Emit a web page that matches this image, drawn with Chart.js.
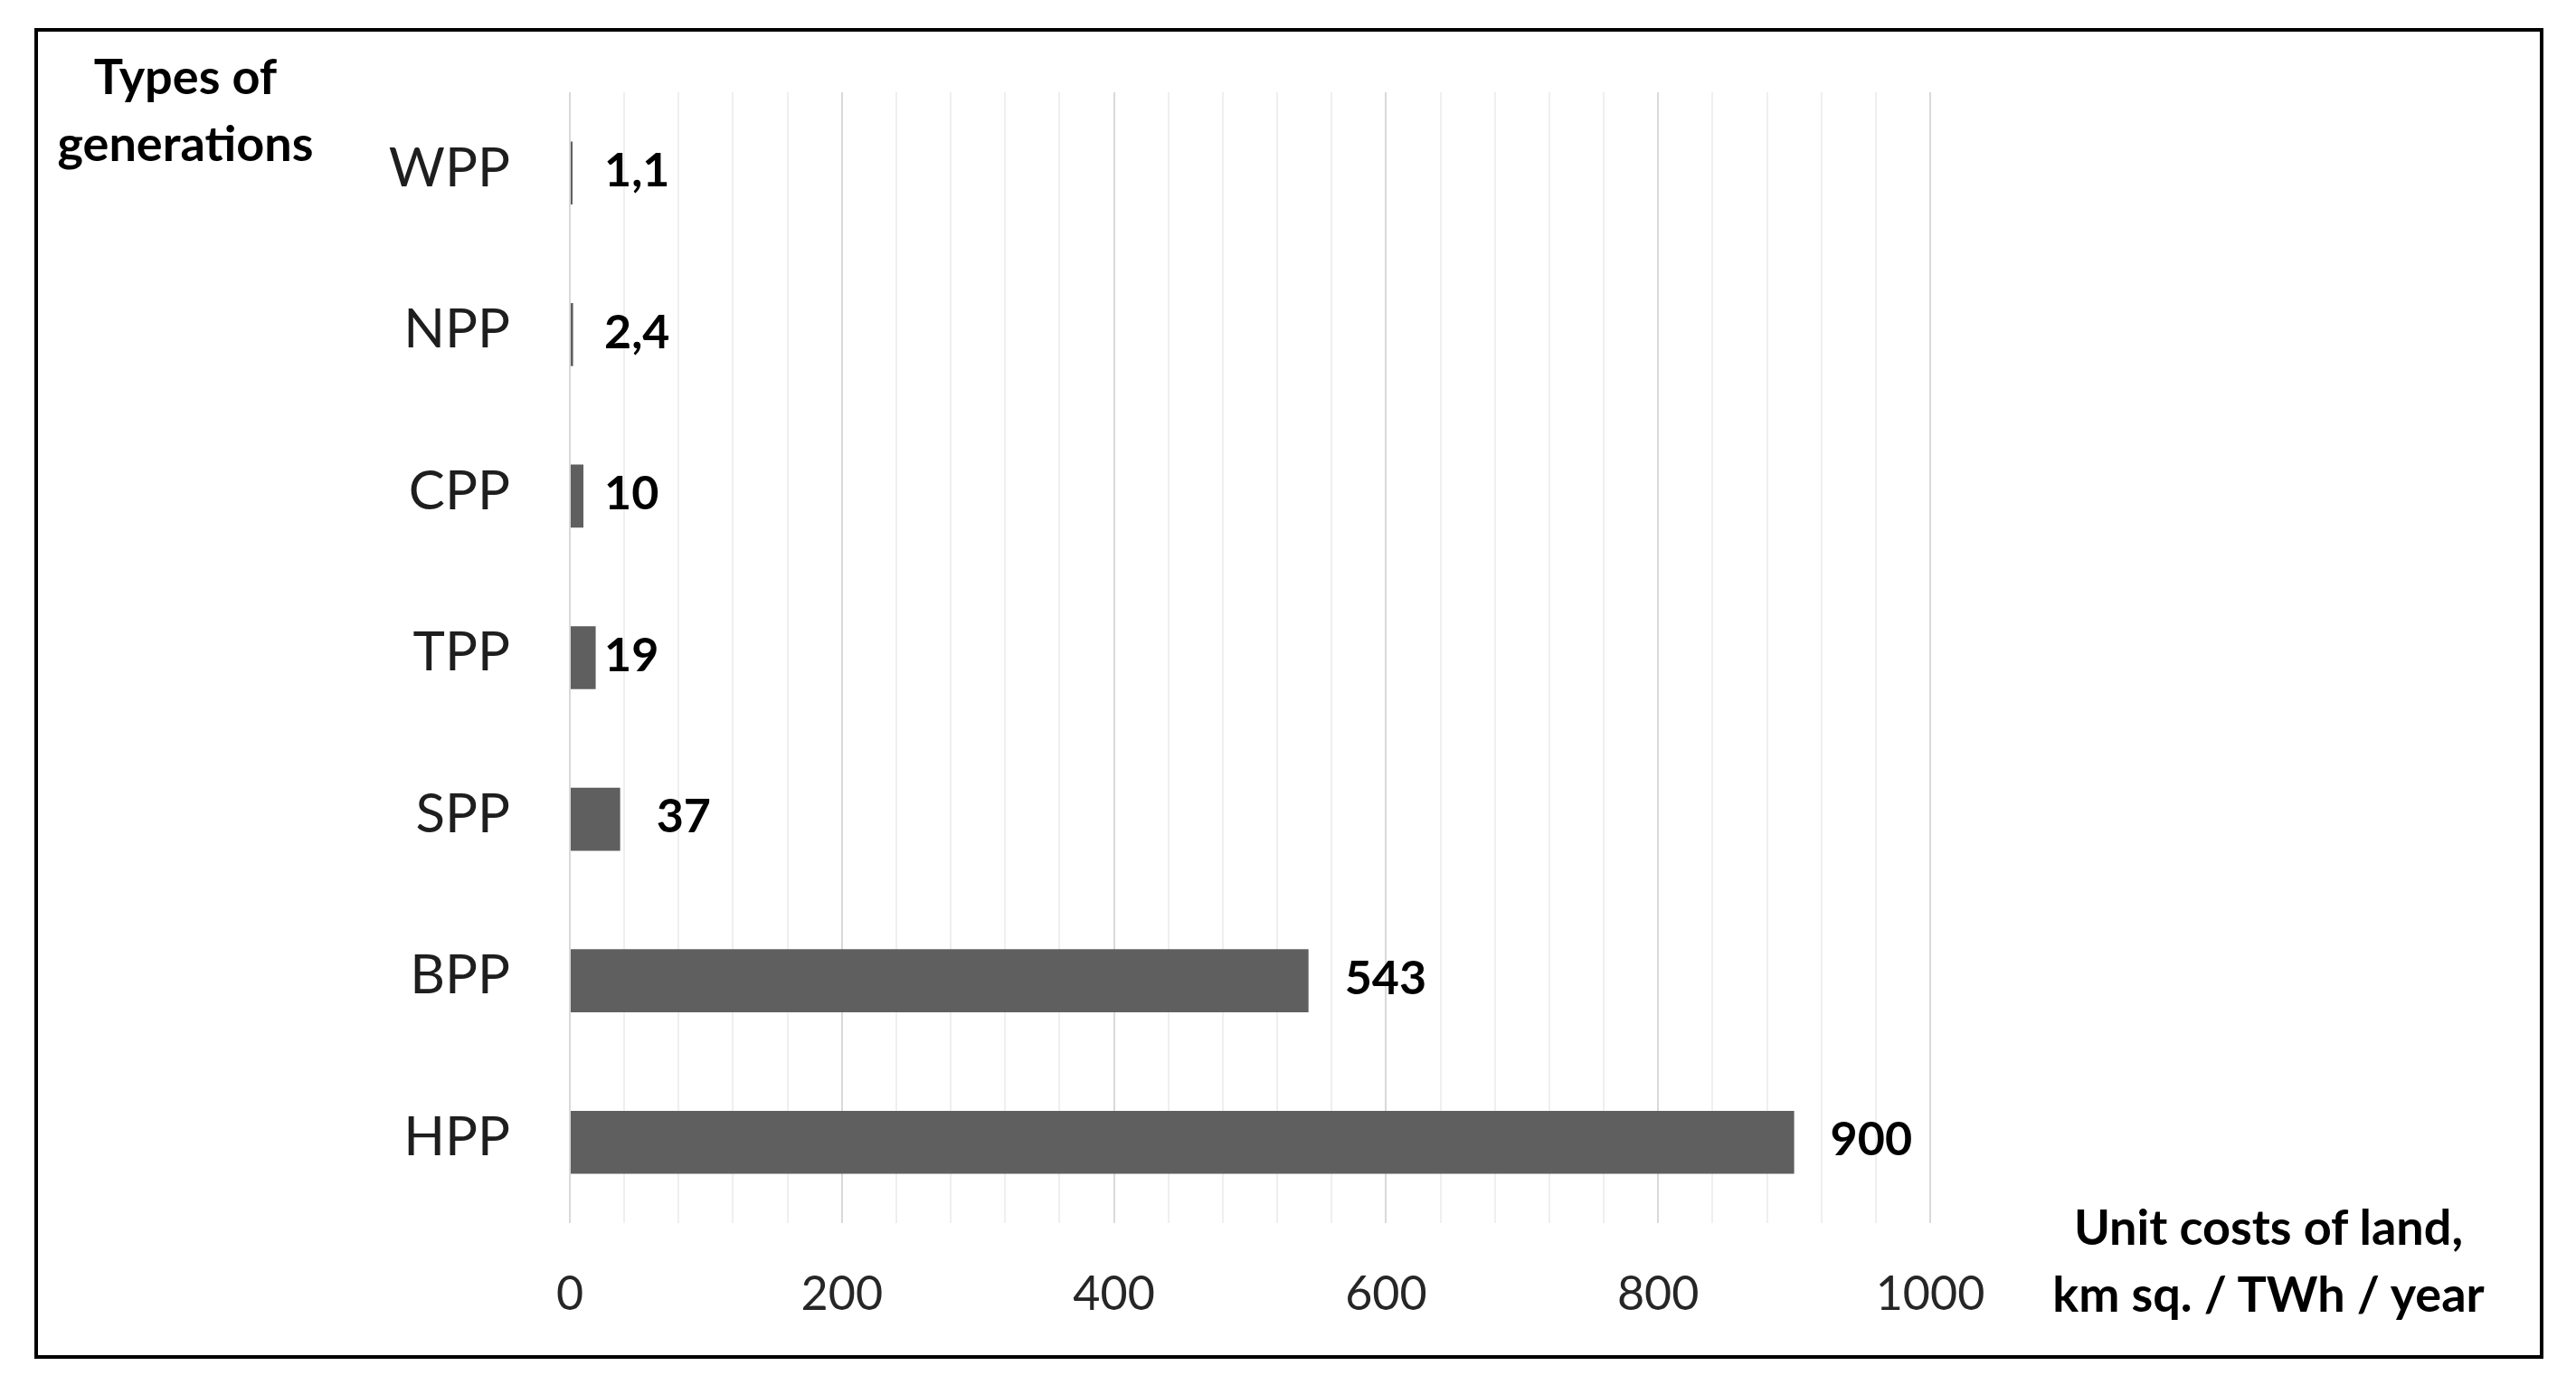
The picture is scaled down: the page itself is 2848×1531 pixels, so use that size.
<!DOCTYPE html>
<html>
<head>
<meta charset="utf-8">
<script src="https://cdn.jsdelivr.net/npm/chart.js@4"></script>
<style>
  html, body { margin: 0; padding: 0; background: #fff; }
  body { width: 2848px; height: 1531px; position: relative; overflow: hidden; font-family: Lato, sans-serif; }
  #chartBox { position: absolute; left: 0; top: 0; width: 2848px; height: 1531px; }
  #frame { position: absolute; left: 38px; top: 31px; width: 2774px; height: 1471px; border: 4px solid #000; box-sizing: border-box; pointer-events: none; }
  .axisTitle { position: absolute; font-weight: bold; font-size: 54px; line-height: 74px; text-align: center; color: #000; white-space: nowrap; transform: translateX(-50%); }
</style>
</head>
<body>
<div id="chartBox"><canvas id="landChart" width="2848" height="1531"></canvas></div>
<div id="frame"></div>
<div class="axisTitle" style="left:205px; top:47px;">Types of<br>generations</div>
<div class="axisTitle" style="left:2508px; top:1319px;">Unit costs of land,<br>km sq. / TWh / year</div>
<script>
const categories = ['WPP', 'NPP', 'CPP', 'TPP', 'SPP', 'BPP', 'HPP'];
const values = [1.1, 2.4, 10, 19, 37, 543, 900];
const tickLabels = [0, 200, 400, 600, 800, 1000];

// Excel style labels use a decimal comma
const valueText = values.map(v => String(v).replace('.', ','));

const valueLabels = {
  id: 'valueLabels',
  afterDatasetsDraw(chart) {
    const ctx = chart.ctx;
    const left = chart.chartArea.left;
    const meta = chart.getDatasetMeta(0);
    ctx.save();
    ctx.font = 'bold 52px Lato';
    ctx.fillStyle = '#000';
    ctx.textBaseline = 'middle';
    ctx.textAlign = 'left';
    meta.data.forEach((bar, i) => {
      // very short bars get their label at a fixed spot next to the axis
      const x = (bar.x - left < 40) ? left + 38 : bar.x + 40;
      ctx.fillText(valueText[i], x, bar.y - 2);
    });
    ctx.restore();
  }
};

function draw() {
  const ctx = document.getElementById('landChart').getContext('2d');
  new Chart(ctx, {
    type: 'bar',
    data: {
      labels: categories,
      datasets: [{
        data: values,
        backgroundColor: '#5f5f5f',
        borderWidth: 0,
        minBarLength: 3,
        barPercentage: 0.39,
        categoryPercentage: 1
      }]
    },
    options: {
      indexAxis: 'y',
      responsive: false,
      animation: false,
      layout: { padding: { top: 95, right: 714, bottom: 0, left: 0 } },
      plugins: {
        legend: { display: false },
        tooltip: { enabled: false }
      },
      scales: {
        x: {
          min: 0,
          max: 1000,
          afterFit: s => { s.height = 179; },
          border: { display: false },
          grid: {
            drawTicks: false,
            lineWidth: 2,
            color: c => (c.tick && c.tick.value % 200 === 0) ? '#d9d9d9' : '#efefef'
          },
          ticks: {
            stepSize: 40,
            autoSkip: false,
            maxRotation: 0,
            padding: 48,
            color: '#262626',
            font: { family: 'Lato', size: 52 },
            callback: v => tickLabels.includes(v) ? String(v) : ''
          }
        },
        y: {
          afterFit: s => { s.width = 630; },
          border: { display: false },
          grid: { display: false, drawTicks: false },
          ticks: {
            padding: 66,
            labelOffset: -5,
            color: '#1e1e1e',
            font: { family: 'Lato', size: 60 }
          }
        }
      }
    },
    plugins: [valueLabels]
  });
}

Promise.all([
  document.fonts.load('60px Lato'),
  document.fonts.load('bold 52px Lato')
]).then(draw, draw);
</script>
</body>
</html>
